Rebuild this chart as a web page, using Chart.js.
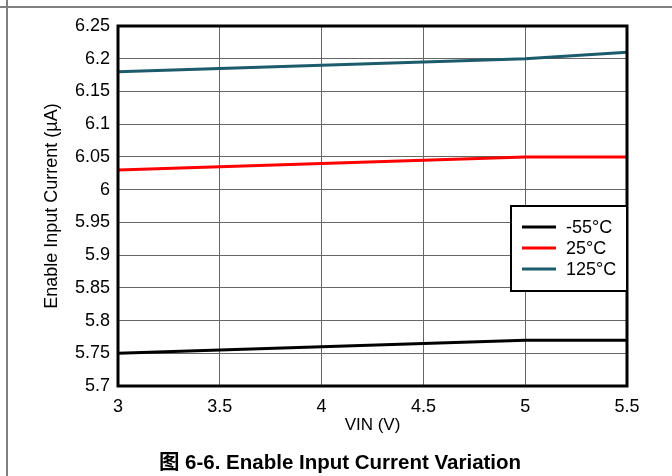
<!DOCTYPE html>
<html>
<head>
<meta charset="utf-8">
<script src="https://cdn.jsdelivr.net/npm/chart.js@4"></script>
<style>
  html, body { margin: 0; padding: 0; background: #fff; }
  #wrap { position: relative; width: 672px; height: 476px; overflow: hidden; }
  #frame-top { position: absolute; left: 0; top: 6px; width: 672px; height: 2px; background: #808080; }
  #frame-left { position: absolute; left: 6px; top: 0; width: 2px; height: 476px; background: #808080; }
  #caption {
    position: absolute; left: 0; width: 680px; top: 445px; text-align: center; line-height: 24px;
    font: bold 20.5px "Liberation Sans", Arial, "Noto Sans CJK SC", sans-serif; color: #000;
  }
  canvas { position: absolute; left: 0; top: 0; }
</style>
</head>
<body>
<div id="wrap">
  <canvas id="chart" width="672" height="476"></canvas>
  <div id="frame-top"></div>
  <div id="frame-left"></div>
  <div id="caption">图 6-6. Enable Input Current Variation</div>
</div>
<script>
/* ── Data ── */
const vin      = [3, 3.5, 4, 4.5, 5, 5.5];
const curM55   = [5.75, 5.755, 5.76, 5.765, 5.77, 5.77];
const cur25    = [6.03, 6.035, 6.04, 6.045, 6.05, 6.05];
const cur125   = [6.18, 6.185, 6.19, 6.195, 6.2, 6.21];
const seriesLabels = ['-55°C', '25°C', '125°C'];
const seriesColors = ['#000000', '#ff0000', '#1b5b6b'];

const FONT = '"Liberation Sans", Arial, sans-serif';

const toPts = ys => ys.map((y, i) => ({ x: vin[i], y }));
const fmt = v => parseFloat(v.toFixed(2)).toString();

/* ── Plot frame + inset legend ── */
const framePlugin = {
  id: 'frame',
  afterDraw(chart) {
    const { ctx, chartArea: a } = chart;
    ctx.save();
    ctx.strokeStyle = '#000';
    ctx.lineWidth = 3;
    ctx.strokeRect(a.left, a.top, a.right - a.left, a.bottom - a.top);

    // legend box
    const bx = 511, by = 206, bw = a.right - bx, bh = 85;
    ctx.fillStyle = '#fff';
    ctx.fillRect(bx, by, bw, bh);
    ctx.lineWidth = 2;
    ctx.strokeRect(bx, by, bw, bh);
    ctx.font = '18px ' + FONT;
    ctx.textBaseline = 'middle';
    chart.data.datasets.forEach((ds, i) => {
      const y = 227 + i * 21;
      ctx.strokeStyle = ds.borderColor;
      ctx.lineWidth = 3;
      ctx.beginPath();
      ctx.moveTo(522, y);
      ctx.lineTo(556, y);
      ctx.stroke();
      ctx.fillStyle = '#000';
      ctx.fillText(ds.label, 566, y + 1);
    });
    ctx.restore();
  }
};

new Chart(document.getElementById('chart'), {
  type: 'line',
  data: {
    datasets: [curM55, cur25, cur125].map((d, i) => ({
      label: seriesLabels[i],
      data: toPts(d),
      borderColor: seriesColors[i],
      borderWidth: 3,
      pointRadius: 0,
      tension: 0,
    })),
  },
  options: {
    responsive: false,
    animation: false,
    layout: { padding: { left: 0, top: 26, right: 45, bottom: 40 } },
    plugins: { legend: { display: false }, tooltip: { enabled: false } },
    scales: {
      x: {
        type: 'linear',
        min: 3, max: 5.5,
        ticks: { stepSize: 0.5, color: '#000', font: { family: FONT, size: 18 }, padding: 10, callback: fmt },
        grid: { color: '#666', lineWidth: 1, drawTicks: false },
        border: { display: false },
        title: { display: true, text: 'VIN (V)', color: '#000', font: { family: FONT, size: 17 }, padding: { top: 0, bottom: 0 } },
        afterFit(scale) { scale.height = 50; },
      },
      y: {
        min: 5.7, max: 6.25,
        ticks: { stepSize: 0.05, color: '#000', font: { family: FONT, size: 18 }, padding: 8, callback: fmt },
        grid: { color: '#666', lineWidth: 1, drawTicks: false },
        border: { display: false },
        title: { display: true, text: 'Enable Input Current (µA)', color: '#000', font: { family: FONT, size: 18 }, padding: { top: 41, bottom: 0 } },
        afterFit(scale) { scale.width = 118; },
      },
    },
  },
  plugins: [framePlugin],
});
</script>
</body>
</html>
